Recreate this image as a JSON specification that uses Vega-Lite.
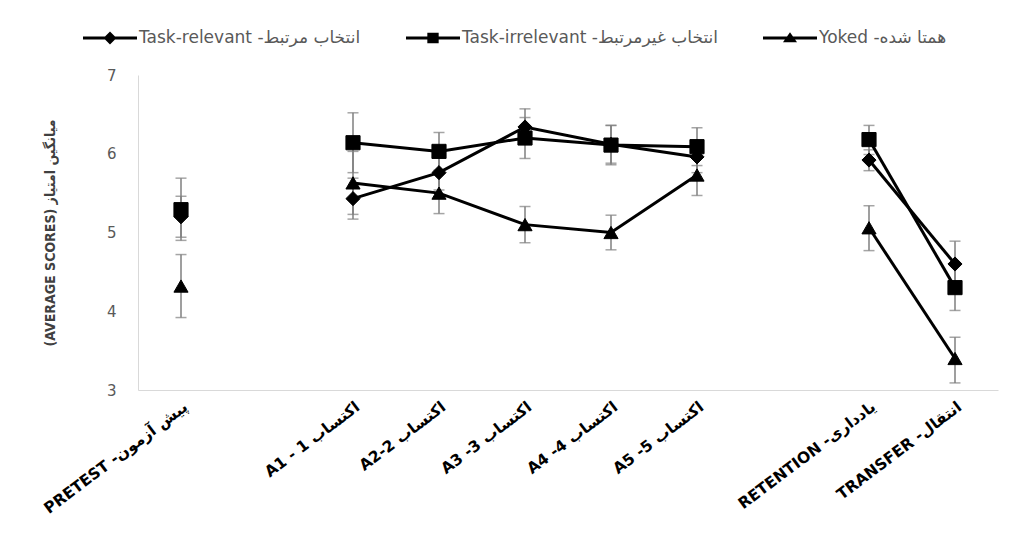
{
  "$schema": "https://vega.github.io/schema/vega-lite/v6.json",
  "width": 860,
  "height": 315,
  "autosize": "none",
  "padding": {"left": 138, "top": 75, "right": 17, "bottom": 144},
  "background": "white",
  "config": {"view": {"stroke": null}, "font": "DejaVu Sans"},
  "data": {
    "values": [
      {"cond": "PRETEST -پیش آزمون", "group": "rel", "phase": "pre", "mean": 5.20, "lo": 4.94, "hi": 5.46},
      {"cond": "A1 - 1 اکتساب", "group": "rel", "phase": "acq", "mean": 5.43, "lo": 5.17, "hi": 5.69},
      {"cond": "A2-2 اکتساب", "group": "rel", "phase": "acq", "mean": 5.76, "lo": 5.54, "hi": 5.98},
      {"cond": "A3 -3 اکتساب", "group": "rel", "phase": "acq", "mean": 6.34, "lo": 6.12, "hi": 6.57},
      {"cond": "A4 -4 اکتساب", "group": "rel", "phase": "acq", "mean": 6.12, "lo": 5.88, "hi": 6.36},
      {"cond": "A5 -5 اکتساب", "group": "rel", "phase": "acq", "mean": 5.96, "lo": 5.76, "hi": 6.16},
      {"cond": "RETENTION -یادداری", "group": "rel", "phase": "post", "mean": 5.92, "lo": 5.785, "hi": 6.05},
      {"cond": "TRANSFER -انتقال", "group": "rel", "phase": "post", "mean": 4.60, "lo": 4.31, "hi": 4.89},
      {"cond": "PRETEST -پیش آزمون", "group": "irr", "phase": "pre", "mean": 5.29, "lo": 4.90, "hi": 5.69},
      {"cond": "A1 - 1 اکتساب", "group": "irr", "phase": "acq", "mean": 6.14, "lo": 5.76, "hi": 6.52},
      {"cond": "A2-2 اکتساب", "group": "irr", "phase": "acq", "mean": 6.03, "lo": 5.79, "hi": 6.27},
      {"cond": "A3 -3 اکتساب", "group": "irr", "phase": "acq", "mean": 6.20, "lo": 5.94, "hi": 6.46},
      {"cond": "A4 -4 اکتساب", "group": "irr", "phase": "acq", "mean": 6.11, "lo": 5.86, "hi": 6.36},
      {"cond": "A5 -5 اکتساب", "group": "irr", "phase": "acq", "mean": 6.09, "lo": 5.85, "hi": 6.33},
      {"cond": "RETENTION -یادداری", "group": "irr", "phase": "post", "mean": 6.18, "lo": 5.99, "hi": 6.36},
      {"cond": "TRANSFER -انتقال", "group": "irr", "phase": "post", "mean": 4.30, "lo": 4.01, "hi": 4.59},
      {"cond": "PRETEST -پیش آزمون", "group": "yok", "phase": "pre", "mean": 4.32, "lo": 3.92, "hi": 4.72},
      {"cond": "A1 - 1 اکتساب", "group": "yok", "phase": "acq", "mean": 5.63, "lo": 5.23, "hi": 6.03},
      {"cond": "A2-2 اکتساب", "group": "yok", "phase": "acq", "mean": 5.50, "lo": 5.24, "hi": 5.76},
      {"cond": "A3 -3 اکتساب", "group": "yok", "phase": "acq", "mean": 5.10, "lo": 4.87, "hi": 5.33},
      {"cond": "A4 -4 اکتساب", "group": "yok", "phase": "acq", "mean": 5.00, "lo": 4.78, "hi": 5.22},
      {"cond": "A5 -5 اکتساب", "group": "yok", "phase": "acq", "mean": 5.73, "lo": 5.47, "hi": 5.99},
      {"cond": "RETENTION -یادداری", "group": "yok", "phase": "post", "mean": 5.06, "lo": 4.77, "hi": 5.34},
      {"cond": "TRANSFER -انتقال", "group": "yok", "phase": "post", "mean": 3.40, "lo": 3.09, "hi": 3.67}
    ]
  },
  "encoding": {
    "x": {
      "field": "cond",
      "type": "ordinal",
      "title": null,
      "scale": {
        "type": "point",
        "padding": 0.5,
        "domain": ["PRETEST -پیش آزمون", " ", "A1 - 1 اکتساب", "A2-2 اکتساب", "A3 -3 اکتساب", "A4 -4 اکتساب", "A5 -5 اکتساب", "  ", "RETENTION -یادداری", "TRANSFER -انتقال"]
      },
      "axis": {
        "domainColor": "#d9d9d9",
        "domainWidth": 1,
        "ticks": false,
        "grid": false,
        "labelAngle": -37,
        "labelFont": "DejaVu Sans",
        "labelFontWeight": "bold",
        "labelFontSize": 15.5,
        "labelColor": "#000000",
        "labelPadding": 9,
        "labelLimit": 400
      }
    }
  },
  "layer": [
    {
      "mark": {"type": "errorbar", "color": "#7f7f7f", "thickness": 1.5, "ticks": {"size": 11, "thickness": 1.5}},
      "encoding": {
        "y": {
          "field": "lo",
          "type": "quantitative",
          "title": "(AVERAGE SCORES) میانگین امتیاز",
          "scale": {"domain": [3, 7], "nice": false, "zero": false},
          "axis": {
            "values": [3, 4, 5, 6, 7],
            "format": "d",
            "domainColor": "#d9d9d9",
            "domainWidth": 1,
            "ticks": false,
            "grid": false,
            "labelFont": "DejaVu Sans",
            "labelFontSize": 15,
            "labelColor": "#595959",
            "labelPadding": 22,
            "title": "(AVERAGE SCORES) میانگین امتیاز",
            "titleFont": "DejaVu Sans Condensed, Liberation Sans Narrow, sans-serif",
            "titleFontSize": 14,
            "titleFontWeight": "bold",
            "titleColor": "#404040",
            "titlePadding": 49
          }
        },
        "y2": {"field": "hi"}
      }
    },
    {
      "mark": {"type": "line", "color": "#000000", "strokeWidth": 3},
      "encoding": {
        "y": {"field": "mean", "type": "quantitative", "title": "(AVERAGE SCORES) میانگین امتیاز"},
        "detail": [{"field": "group"}, {"field": "phase"}]
      }
    },
    {
      "mark": {"type": "point", "filled": true, "color": "#000000", "opacity": 1, "size": 200, "stroke": "#000000", "strokeWidth": 1},
      "encoding": {
        "y": {"field": "mean", "type": "quantitative", "title": "(AVERAGE SCORES) میانگین امتیاز"},
        "shape": {
          "field": "group",
          "type": "nominal",
          "scale": {"domain": ["rel", "irr", "yok"], "range": ["diamond", "square", "triangle-up"]},
          "legend": null
        }
      }
    },
    {
      "transform": [{"filter": "false"}],
      "mark": {"type": "point", "filled": true, "color": "#000000", "opacity": 1},
      "encoding": {
        "shape": {
          "field": "group",
          "type": "nominal",
          "scale": {
            "domain": ["rel", "irr", "yok"],
            "range": [
              "M-1,-0.055L1,-0.055L1,0.055L-1,0.055ZM0,-0.24L0.24,0L0,0.24L-0.24,0Z",
              "M-1,-0.055L1,-0.055L1,0.055L-1,0.055ZM-0.21,-0.19L0.21,-0.19L0.21,0.19L-0.21,0.19Z",
              "M-1,-0.055L1,-0.055L1,0.055L-1,0.055ZM0,-0.21L0.26,0.16L-0.26,0.16Z"
            ]
          },
          "legend": {
            "title": null,
            "orient": "none",
            "legendX": -55,
            "legendY": -64,
            "direction": "horizontal",
            "columns": 3,
            "columnPadding": 45,
            "symbolSize": 2916,
            "symbolStrokeWidth": 0,
            "symbolFillColor": "#000000",
            "symbolStrokeColor": "#000000",
            "symbolOpacity": 1,
            "labelFont": "DejaVu Sans",
            "labelFontSize": 17,
            "labelColor": "#595959",
            "labelOffset": 2,
            "labelLimit": 400,
            "labelExpr": "datum.value == 'rel' ? 'Task-relevant انتخاب مرتبط-\u200F' : datum.value == 'irr' ? 'Task-irrelevant انتخاب غیرمرتبط-\u200F' : 'Yoked همتا شده-\u200F'"
          }
        }
      }
    }
  ],
  "resolve": {"scale": {"shape": "independent"}}
}
